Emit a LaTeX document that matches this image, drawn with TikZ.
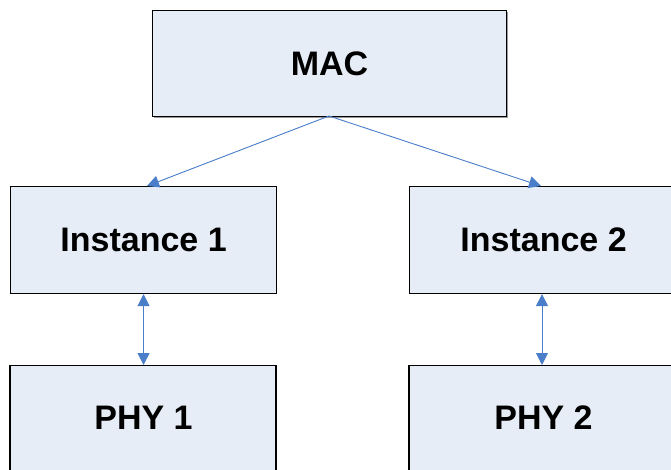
\documentclass[tikz,border=0pt]{standalone}
\usepackage{fontspec}
\setmainfont{Liberation Sans}
\usetikzlibrary{arrows.meta}
\definecolor{boxfill}{HTML}{E6EDF7}
\definecolor{arrowblue}{HTML}{4A7EC8}
\definecolor{shadowgray}{HTML}{9A9A9A}
\begin{document}
\begin{tikzpicture}[x=1pt,y=-1pt,
  box/.style={draw=black,line width=1.1pt,fill=boxfill,minimum width=266pt,minimum height=107pt,
    font=\fontsize{34}{39}\selectfont\bfseries,inner sep=0pt},
  conn/.style={draw=arrowblue,line width=0.9pt,-{Triangle[length=12pt,width=12pt]}},
  dconn/.style={draw=arrowblue,line width=0.9pt,{Triangle[length=12pt,width=12pt]}-{Triangle[length=12pt,width=12pt]}}]
\useasboundingbox (0,0) rectangle (671,470);
% shadow
\fill[shadowgray] (154,12) rectangle (508,118);
\node[box,minimum width=354pt,minimum height=106pt,anchor=north west] (mac) at (152,10) {MAC};
\node[box,anchor=north west] (i1) at (10,186) {Instance 1};
\node[box,anchor=north west,minimum width=268pt] (i2) at (409,186) {Instance 2};
\node[box,anchor=north west,minimum height=104pt,text depth=0pt] (p1) at (10,365) {PHY 1};
\node[box,anchor=north west,minimum height=104pt,minimum width=268pt] (p2) at (409,365) {PHY 2};
\fill[boxfill] (11,468) rectangle (275,472);
\fill[boxfill] (410,468) rectangle (672,472);
\coordinate (m) at (329,116);
\draw[conn] (m) -- (147,186);
\draw[conn] (m) -- (541,186);
\draw[dconn] (i1.south) -- (p1.north);
\draw[dconn] (i2.south -| 542,0) -- (p2.north -| 542,0);
\draw[line width=1.1pt] (10,365) -- (10,472);
\draw[line width=1.1pt] (276,365) -- (276,472);
\draw[line width=1.1pt] (409,365) -- (409,472);
\end{tikzpicture}
\end{document}
